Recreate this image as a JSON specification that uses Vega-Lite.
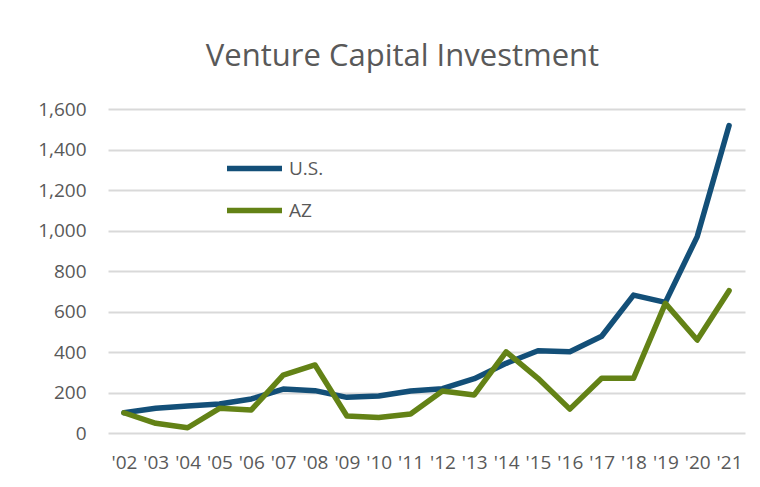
{
  "$schema": "https://vega.github.io/schema/vega-lite/v6.json",
  "width": 637,
  "height": 324,
  "autosize": "none",
  "padding": {"left": 108, "top": 109, "right": 15, "bottom": 54},
  "background": "white",
  "title": {
    "text": "Venture Capital Investment",
    "font": "Open Sans",
    "fontSize": 31,
    "fontWeight": "normal",
    "color": "#595959",
    "anchor": "middle",
    "dx": -24,
    "offset": 27
  },
  "data": {
    "values": [
      {"year": "'02", "series": "U.S.", "value": 100},
      {"year": "'03", "series": "U.S.", "value": 122},
      {"year": "'04", "series": "U.S.", "value": 133},
      {"year": "'05", "series": "U.S.", "value": 143},
      {"year": "'06", "series": "U.S.", "value": 168},
      {"year": "'07", "series": "U.S.", "value": 217},
      {"year": "'08", "series": "U.S.", "value": 209},
      {"year": "'09", "series": "U.S.", "value": 176},
      {"year": "'10", "series": "U.S.", "value": 183},
      {"year": "'11", "series": "U.S.", "value": 207},
      {"year": "'12", "series": "U.S.", "value": 219},
      {"year": "'13", "series": "U.S.", "value": 268},
      {"year": "'14", "series": "U.S.", "value": 344},
      {"year": "'15", "series": "U.S.", "value": 406},
      {"year": "'16", "series": "U.S.", "value": 401},
      {"year": "'17", "series": "U.S.", "value": 478},
      {"year": "'18", "series": "U.S.", "value": 681},
      {"year": "'19", "series": "U.S.", "value": 645},
      {"year": "'20", "series": "U.S.", "value": 970},
      {"year": "'21", "series": "U.S.", "value": 1518},
      {"year": "'02", "series": "AZ", "value": 100},
      {"year": "'03", "series": "AZ", "value": 48},
      {"year": "'04", "series": "AZ", "value": 26},
      {"year": "'05", "series": "AZ", "value": 122},
      {"year": "'06", "series": "AZ", "value": 114},
      {"year": "'07", "series": "AZ", "value": 286},
      {"year": "'08", "series": "AZ", "value": 336},
      {"year": "'09", "series": "AZ", "value": 84},
      {"year": "'10", "series": "AZ", "value": 77},
      {"year": "'11", "series": "AZ", "value": 94},
      {"year": "'12", "series": "AZ", "value": 207},
      {"year": "'13", "series": "AZ", "value": 188},
      {"year": "'14", "series": "AZ", "value": 401},
      {"year": "'15", "series": "AZ", "value": 270},
      {"year": "'16", "series": "AZ", "value": 118},
      {"year": "'17", "series": "AZ", "value": 270},
      {"year": "'18", "series": "AZ", "value": 270},
      {"year": "'19", "series": "AZ", "value": 640},
      {"year": "'20", "series": "AZ", "value": 459},
      {"year": "'21", "series": "AZ", "value": 703}
    ]
  },
  "mark": {"type": "line", "strokeWidth": 5.5, "strokeCap": "round", "strokeJoin": "round"},
  "encoding": {
    "x": {
      "field": "year",
      "type": "ordinal",
      "scale": {"type": "point", "padding": 0.5},
      "axis": {
        "title": null,
        "labelAngle": 0,
        "ticks": false,
        "domain": false,
        "labelPadding": 20,
        "labelFont": "Open Sans",
        "labelFontSize": 19,
        "labelColor": "#595959"
      }
    },
    "y": {
      "field": "value",
      "type": "quantitative",
      "scale": {"domain": [0, 1600], "nice": false},
      "axis": {
        "title": null,
        "values": [0, 200, 400, 600, 800, 1000, 1200, 1400, 1600],
        "format": ",.0f",
        "ticks": false,
        "domain": false,
        "labelPadding": 22,
        "labelFont": "Open Sans",
        "labelFontSize": 19,
        "labelColor": "#595959",
        "gridColor": "#D9D9D9",
        "gridWidth": 2
      }
    },
    "color": {
      "field": "series",
      "type": "nominal",
      "scale": {"domain": ["U.S.", "AZ"], "range": ["#134F78", "#638216"]},
      "legend": {
        "title": null,
        "orient": "none",
        "legendX": 116,
        "legendY": 29,
        "symbolType": "stroke",
        "symbolSize": 3025,
        "symbolStrokeWidth": 5.5,
        "labelFont": "Open Sans",
        "labelFontSize": 19,
        "labelColor": "#595959",
        "labelOffset": 4,
        "rowPadding": -12
      }
    }
  },
  "config": {"view": {"stroke": null}}
}
